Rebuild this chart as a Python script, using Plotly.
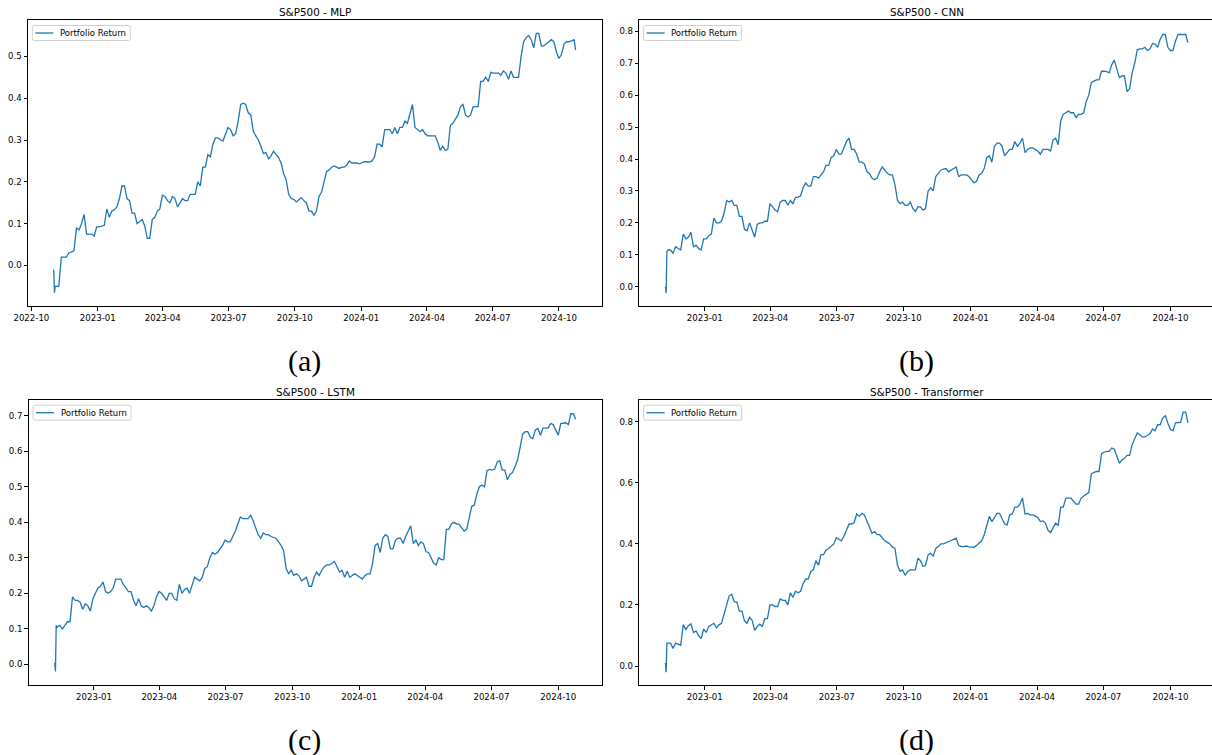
import pandas as pd
import plotly.graph_objects as go

# ---------------- data ----------------
titles = ["S&P500 - MLP", "S&P500 - CNN", "S&P500 - LSTM", "S&P500 - Transformer"]
panel_labels = ["(a)", "(b)", "(c)", "(d)"]
series_name = "Portfolio Return"

# ----- MLP -----
mlp_head_dates = ["2022-11-01", "2022-11-02", "2022-11-03"]
mlp_head_vals = [-0.01, -0.065, -0.05]
mlp_weekly_start = "2022-11-08"
mlp_weekly_vals = [
    -0.05, 0.02, 0.03, 0.035, 0.085, 0.122, 0.075, 0.07, 0.092,
    0.096, 0.115, 0.133, 0.16, 0.19, 0.155, 0.125, 0.105, 0.095, 0.065,
    0.115, 0.135, 0.165, 0.15, 0.16, 0.15, 0.155, 0.17, 0.17, 0.19,
    0.235, 0.26, 0.305, 0.30, 0.315, 0.325, 0.315, 0.385, 0.385, 0.36,
    0.31, 0.285, 0.27, 0.262, 0.265, 0.245, 0.205, 0.16, 0.152, 0.162,
    0.15, 0.13, 0.13, 0.175, 0.225, 0.235, 0.235, 0.235, 0.24, 0.245,
    0.245, 0.245, 0.248, 0.25, 0.29, 0.284, 0.325, 0.315, 0.315, 0.33,
    0.34, 0.385, 0.325, 0.325, 0.31, 0.31, 0.295, 0.285, 0.278, 0.34,
    0.36, 0.385, 0.355, 0.38, 0.38, 0.44, 0.44, 0.46, 0.46, 0.465,
    0.445, 0.45, 0.45, 0.535, 0.55, 0.52, 0.555, 0.525, 0.535, 0.535,
    0.495, 0.53, 0.535, 0.54,
]
mlp_mid_start = "2022-11-04 12:00"
mlp_mid_vals = [
    -0.05, 0.02, 0.02, 0.033, 0.09, 0.10, 0.075, 0.075, 0.092, 0.095,
    0.135, 0.13, 0.14, 0.19, 0.16, 0.125, 0.10, 0.11, 0.065, 0.11,
    0.13, 0.168, 0.155, 0.165, 0.14, 0.16, 0.155, 0.17, 0.20, 0.235,
    0.265, 0.29, 0.305, 0.298, 0.33, 0.31, 0.345, 0.388, 0.365, 0.32,
    0.30, 0.268, 0.255, 0.273, 0.258, 0.22, 0.17, 0.158, 0.158, 0.155,
    0.13, 0.12, 0.165, 0.20, 0.228, 0.238, 0.232, 0.235, 0.25, 0.245,
    0.243, 0.248, 0.247, 0.26, 0.29, 0.325, 0.325, 0.33, 0.33, 0.345,
    0.36, 0.33, 0.32, 0.315, 0.31, 0.31, 0.275, 0.275, 0.335, 0.35,
    0.38, 0.36, 0.36, 0.38, 0.44, 0.45, 0.462, 0.46, 0.455, 0.46,
    0.465, 0.45, 0.50, 0.545, 0.54, 0.555, 0.525, 0.53, 0.54, 0.51,
    0.505, 0.535, 0.538,
]
mlp_end_date = "2024-10-24"
mlp_end_val = 0.515

# ----- CNN -----
cnn_head_dates = ["2022-11-08", "2022-11-09", "2022-11-10"]
cnn_head_vals = [0.0, -0.02, 0.11]
cnn_weekly_start = "2022-11-15"
cnn_weekly_vals = [
    0.115, 0.125, 0.115, 0.15, 0.17, 0.13, 0.115, 0.15, 0.165,
    0.20, 0.205, 0.27, 0.27, 0.255, 0.22, 0.175, 0.18, 0.195, 0.20,
    0.205, 0.25, 0.235, 0.27, 0.255, 0.26, 0.28, 0.31, 0.315, 0.345,
    0.34, 0.36, 0.38, 0.41, 0.415, 0.435, 0.465, 0.43, 0.39, 0.385,
    0.355, 0.335, 0.36, 0.365, 0.35, 0.32, 0.26, 0.255, 0.265, 0.235,
    0.25, 0.245, 0.31, 0.345, 0.365, 0.37, 0.365, 0.375, 0.35, 0.35,
    0.335, 0.33, 0.355, 0.405, 0.39, 0.45, 0.44, 0.42, 0.43, 0.44,
    0.465, 0.43, 0.435, 0.425, 0.43, 0.43, 0.46, 0.445, 0.54, 0.55,
    0.545, 0.54, 0.545, 0.60, 0.645, 0.648, 0.675, 0.67, 0.71, 0.655,
    0.66, 0.62, 0.70, 0.745, 0.75, 0.745, 0.76, 0.775, 0.79, 0.74,
    0.77, 0.79, 0.79,
]
cnn_mid_start = "2022-11-11 12:00"
cnn_mid_vals = [
    0.115, 0.105, 0.12, 0.165, 0.155, 0.125, 0.12, 0.15, 0.16, 0.215,
    0.20, 0.23, 0.265, 0.255, 0.22, 0.18, 0.20, 0.155, 0.20, 0.205,
    0.26, 0.24, 0.265, 0.27, 0.27, 0.28, 0.285, 0.325, 0.315, 0.345,
    0.35, 0.38, 0.405, 0.43, 0.415, 0.455, 0.43, 0.415, 0.39, 0.36,
    0.34, 0.34, 0.375, 0.355, 0.35, 0.27, 0.265, 0.255, 0.245, 0.25,
    0.24, 0.30, 0.30, 0.355, 0.368, 0.36, 0.37, 0.345, 0.35, 0.345,
    0.325, 0.35, 0.37, 0.41, 0.44, 0.45, 0.41, 0.43, 0.455, 0.45,
    0.42, 0.435, 0.43, 0.415, 0.43, 0.425, 0.465, 0.52, 0.545, 0.545,
    0.53, 0.54, 0.58, 0.64, 0.648, 0.675, 0.674, 0.695, 0.68, 0.66,
    0.611, 0.67, 0.742, 0.745, 0.74, 0.762, 0.75, 0.79, 0.75, 0.74,
    0.79, 0.79,
]
cnn_end_date = "2024-10-25"
cnn_end_val = 0.765

# ----- LSTM -----
lstm_head_dates = ["2022-11-08", "2022-11-09", "2022-11-10"]
lstm_head_vals = [0.005, -0.02, 0.11]
lstm_weekly_start = "2022-11-15"
lstm_weekly_vals = [
    0.11, 0.11, 0.12, 0.18, 0.175, 0.17, 0.15, 0.20, 0.22,
    0.205, 0.205, 0.24, 0.24, 0.215, 0.205, 0.165, 0.165, 0.165, 0.15,
    0.19, 0.20, 0.18, 0.20, 0.18, 0.20, 0.215, 0.225, 0.24, 0.245,
    0.275, 0.315, 0.315, 0.335, 0.345, 0.36, 0.395, 0.41, 0.41, 0.405,
    0.365, 0.37, 0.365, 0.358, 0.345, 0.32, 0.255, 0.25, 0.25, 0.24,
    0.22, 0.245, 0.25, 0.275, 0.28, 0.29, 0.26, 0.245, 0.245, 0.255,
    0.245, 0.25, 0.255, 0.335, 0.315, 0.365, 0.325, 0.35, 0.355, 0.36,
    0.39, 0.35, 0.345, 0.317, 0.30, 0.28, 0.295, 0.38, 0.395, 0.395,
    0.385, 0.38, 0.445, 0.48, 0.505, 0.545, 0.547, 0.57, 0.547, 0.52,
    0.54, 0.575, 0.648, 0.655, 0.635, 0.664, 0.665, 0.665, 0.675, 0.645,
    0.68, 0.675, 0.705,
]
lstm_mid_start = "2022-11-11 12:00"
lstm_mid_vals = [
    0.105, 0.10, 0.12, 0.19, 0.18, 0.155, 0.165, 0.185, 0.215, 0.232,
    0.20, 0.215, 0.24, 0.225, 0.205, 0.18, 0.185, 0.16, 0.16, 0.165,
    0.205, 0.19, 0.20, 0.185, 0.225, 0.21, 0.20, 0.245, 0.235, 0.27,
    0.30, 0.31, 0.325, 0.35, 0.345, 0.375, 0.415, 0.41, 0.42, 0.385,
    0.355, 0.365, 0.36, 0.355, 0.335, 0.27, 0.265, 0.255, 0.235, 0.245,
    0.22, 0.26, 0.265, 0.28, 0.285, 0.275, 0.265, 0.262, 0.25, 0.25,
    0.24, 0.255, 0.285, 0.34, 0.355, 0.36, 0.325, 0.355, 0.34, 0.375,
    0.34, 0.335, 0.34, 0.315, 0.285, 0.30, 0.295, 0.38, 0.40, 0.395,
    0.375, 0.416, 0.448, 0.50, 0.50, 0.549, 0.549, 0.573, 0.547, 0.535,
    0.556, 0.61, 0.655, 0.64, 0.66, 0.645, 0.665, 0.678, 0.66, 0.678,
    0.68, 0.706,
]
lstm_end_date = "2024-10-25"
lstm_end_val = 0.69

# ----- Transformer -----
tf_head_dates = ["2022-11-08", "2022-11-09", "2022-11-10"]
tf_head_vals = [0.01, -0.02, 0.075]
tf_weekly_start = "2022-11-15"
tf_weekly_vals = [
    0.075, 0.075, 0.068, 0.12, 0.138, 0.115, 0.09, 0.11, 0.135,
    0.125, 0.14, 0.20, 0.235, 0.21, 0.18, 0.14, 0.15, 0.13, 0.13,
    0.155, 0.20, 0.195, 0.215, 0.20, 0.225, 0.24, 0.27, 0.285, 0.315,
    0.33, 0.365, 0.385, 0.40, 0.415, 0.425, 0.465, 0.47, 0.49, 0.495,
    0.455, 0.44, 0.43, 0.41, 0.40, 0.385, 0.31, 0.297, 0.315, 0.315,
    0.345, 0.33, 0.369, 0.385, 0.40, 0.403, 0.411, 0.419, 0.391, 0.393,
    0.389, 0.395, 0.41, 0.46, 0.473, 0.50, 0.485, 0.462, 0.498, 0.52,
    0.55, 0.50, 0.495, 0.487, 0.475, 0.445, 0.455, 0.46, 0.52, 0.55,
    0.54, 0.53, 0.557, 0.568, 0.634, 0.637, 0.70, 0.703, 0.71, 0.664,
    0.68, 0.69, 0.745, 0.757, 0.75, 0.76, 0.77, 0.79, 0.82, 0.775,
    0.796, 0.798, 0.831,
]
tf_mid_start = "2022-11-11 12:00"
tf_mid_vals = [
    0.075, 0.058, 0.072, 0.135, 0.132, 0.11, 0.10, 0.122, 0.13, 0.14,
    0.135, 0.17, 0.23, 0.21, 0.18, 0.148, 0.16, 0.117, 0.137, 0.155,
    0.20, 0.195, 0.22, 0.215, 0.24, 0.245, 0.245, 0.285, 0.31, 0.345,
    0.365, 0.38, 0.393, 0.42, 0.41, 0.445, 0.465, 0.498, 0.50, 0.475,
    0.435, 0.43, 0.42, 0.405, 0.39, 0.33, 0.315, 0.31, 0.315, 0.353,
    0.326, 0.364, 0.36, 0.391, 0.40, 0.408, 0.415, 0.395, 0.391, 0.39,
    0.389, 0.402, 0.43, 0.49, 0.485, 0.50, 0.465, 0.495, 0.52, 0.53,
    0.498, 0.495, 0.49, 0.473, 0.468, 0.437, 0.468, 0.52, 0.55, 0.55,
    0.53, 0.55, 0.564, 0.63, 0.637, 0.695, 0.703, 0.714, 0.686, 0.675,
    0.69, 0.725, 0.763, 0.75, 0.755, 0.776, 0.79, 0.812, 0.795, 0.77,
    0.797, 0.831,
]
tf_end_date = "2024-10-25"
tf_end_val = 0.796

y_ranges = [[-0.097, 0.587], [-0.0605, 0.8355], [-0.058, 0.745], [-0.062, 0.872]]
y_dticks = [0.1, 0.1, 0.1, 0.2]
x_ranges = [
    ["2022-09-26 08:00", "2024-11-29 04:00"],
    ["2022-10-03 04:00", "2024-11-27 02:00"],
    ["2022-10-03 04:00", "2024-11-29 20:00"],
    ["2022-10-03 04:00", "2024-11-27 02:00"],
]


def build(head_dates, head_vals, weekly_start, weekly_vals, mid_start, mid_vals,
          end_date, end_val):
    wk = pd.date_range(weekly_start, periods=len(weekly_vals), freq="7D")
    md = pd.date_range(mid_start, periods=len(mid_vals), freq="7D")
    pairs = list(zip(pd.to_datetime(head_dates), head_vals))
    pairs += list(zip(wk, weekly_vals)) + list(zip(md, mid_vals))
    pairs.append((pd.Timestamp(end_date), end_val))
    pairs.sort(key=lambda p: p[0])
    return [p[0] for p in pairs], [p[1] for p in pairs]


series = [
    build(mlp_head_dates, mlp_head_vals, mlp_weekly_start, mlp_weekly_vals,
          mlp_mid_start, mlp_mid_vals, mlp_end_date, mlp_end_val),
    build(cnn_head_dates, cnn_head_vals, cnn_weekly_start, cnn_weekly_vals,
          cnn_mid_start, cnn_mid_vals, cnn_end_date, cnn_end_val),
    build(lstm_head_dates, lstm_head_vals, lstm_weekly_start, lstm_weekly_vals,
          lstm_mid_start, lstm_mid_vals, lstm_end_date, lstm_end_val),
    build(tf_head_dates, tf_head_vals, tf_weekly_start, tf_weekly_vals,
          tf_mid_start, tf_mid_vals, tf_end_date, tf_end_val),
]

# ---------------- layout geometry (pixels) ----------------
W, H = 1212, 755
x_dom_px = [(28, 601.7), (639.3, 1212), (28.7, 601.7), (639.3, 1212)]
y_dom_px = [(20, 306), (20, 306), (399.7, 685), (399.7, 685)]
title_cx_px = [315, 926.6, 315, 926.6]
label_c_px = [(304, 361), (916, 361), (304, 740), (916, 740)]
legend_box_w, legend_box_h = 98, 15

BLUE = "#1f77b4"
TICKFONT = dict(family="DejaVu Sans", size=8.6, color="black")


def px(xp):
    return xp / W


def py(yp):
    return 1 - yp / H


def rounded_rect(x0, y0, x1, y1, r):
    pts = [
        f"M{px(x0 + r)},{py(y0)}", f"L{px(x1 - r)},{py(y0)}",
        f"Q{px(x1)},{py(y0)} {px(x1)},{py(y0 + r)}", f"L{px(x1)},{py(y1 - r)}",
        f"Q{px(x1)},{py(y1)} {px(x1 - r)},{py(y1)}", f"L{px(x0 + r)},{py(y1)}",
        f"Q{px(x0)},{py(y1)} {px(x0)},{py(y1 - r)}", f"L{px(x0)},{py(y0 + r)}",
        f"Q{px(x0)},{py(y0)} {px(x0 + r)},{py(y0)}", "Z",
    ]
    return " ".join(pts)


fig = go.Figure()
annotations = []
shapes = []
layout_upd = {}
for k in range(4):
    n = "" if k == 0 else str(k + 1)
    dates, vals = series[k]
    fig.add_trace(go.Scatter(
        x=dates, y=vals, mode="lines", name=series_name,
        line=dict(color=BLUE, width=1.3),
        xaxis="x" + n, yaxis="y" + n, showlegend=False,
    ))
    xd = [px(x_dom_px[k][0]), px(x_dom_px[k][1])]
    yd = [py(y_dom_px[k][1]), py(y_dom_px[k][0])]
    right_col = k in (1, 3)
    layout_upd["xaxis" + n] = dict(
        domain=xd, anchor="y" + n, range=x_ranges[k], type="date",
        tickformat="%Y-%m", dtick="M3", tick0="2022-10-01", automargin=False,
        showgrid=False, zeroline=False, showline=True, linecolor="black",
        linewidth=1, mirror=True, ticks="outside", ticklen=3.5, tickwidth=0.8,
        tickcolor="black", tickfont=TICKFONT,
    )
    layout_upd["yaxis" + n] = dict(
        domain=yd, anchor="x" + n, range=y_ranges[k], dtick=y_dticks[k],
        tick0=0, tickformat=".1f", automargin=False,
        showgrid=False, zeroline=False, showline=True, linecolor="black",
        linewidth=1, mirror=(False if right_col else True), ticks="outside",
        ticklen=3.5, tickwidth=0.8, tickcolor="black", tickfont=TICKFONT,
    )
    # legend (matplotlib style)
    lx0 = x_dom_px[k][0] + 4.3
    ly0 = y_dom_px[k][0] + 5.5
    shapes.append(dict(
        type="path", xref="paper", yref="paper",
        path=rounded_rect(lx0, ly0, lx0 + legend_box_w, ly0 + legend_box_h, 2),
        fillcolor="rgba(255,255,255,0.8)", line=dict(color="#d0d0d0", width=1),
        layer="above",
    ))
    ly_mid = ly0 + legend_box_h / 2
    shapes.append(dict(
        type="line", xref="paper", yref="paper",
        x0=px(lx0 + 3), x1=px(lx0 + 21), y0=py(ly_mid), y1=py(ly_mid),
        line=dict(color=BLUE, width=1.3), layer="above",
    ))
    annotations.append(dict(
        text=series_name, xref="paper", yref="paper",
        x=px(lx0 + 26.5), y=py(ly_mid), xanchor="left", yanchor="middle",
        showarrow=False, borderpad=0,
        font=dict(family="DejaVu Sans", size=8.5, color="black"),
    ))
    annotations.append(dict(
        text=titles[k], xref="paper", yref="paper",
        x=px(title_cx_px[k]), y=yd[1], xanchor="center", yanchor="bottom",
        showarrow=False, font=dict(family="DejaVu Sans", size=10.4, color="black"),
    ))
    annotations.append(dict(
        text=panel_labels[k], xref="paper", yref="paper",
        x=px(label_c_px[k][0]), y=py(label_c_px[k][1]),
        xanchor="center", yanchor="middle", showarrow=False,
        font=dict(family="Liberation Serif", size=30, color="black"),
    ))

fig.update_layout(
    template="none",
    width=W, height=H, margin=dict(l=0, r=0, t=0, b=0, autoexpand=False),
    paper_bgcolor="white", plot_bgcolor="white", hovermode=False,
    annotations=annotations, shapes=shapes, **layout_upd,
)

fig.write_html(
    "out.html",
    config={"displayModeBar": False},
    post_script="document.body.style.margin='0px';document.body.style.overflow='hidden';",
)
